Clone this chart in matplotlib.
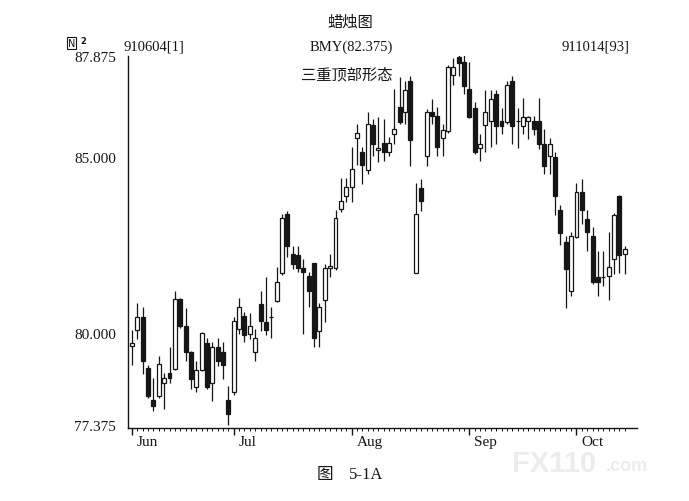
import numpy as np
import matplotlib
matplotlib.use("Agg")
import matplotlib.pyplot as plt
from matplotlib.transforms import ScaledTranslation

# ---- data (trading day index 1..93, 910604 .. 911014) ----
opens = [79.62, 80.09, 80.45, 79.00, 78.10, 78.21, 78.58, 78.86, 78.98, 80.97,
         80.20, 79.46, 78.47, 78.95, 79.72, 78.58, 79.60, 79.46, 78.10, 78.32,
         80.11, 80.48, 79.97, 79.46, 80.82, 80.31, 80.45, 80.91, 81.70, 83.38,
         82.24, 82.22, 81.85, 81.62, 81.99, 80.06, 80.94, 81.85, 81.85, 83.52,
         83.89, 84.15, 85.54, 85.14, 84.63, 85.91, 85.20, 85.40, 85.14, 85.65,
         86.42, 86.28, 87.16, 81.70, 84.12, 85.03, 86.28, 86.16, 85.54, 85.74,
         87.33, 87.84, 87.70, 86.93, 86.39, 85.26, 85.91, 86.02, 86.79, 86.02,
         85.99, 87.16, 86.02, 85.88, 86.02, 86.02, 86.02, 85.37, 85.03, 85.00,
         83.49, 82.59, 81.19, 82.73, 84.01, 83.24, 82.76, 81.59, 81.59, 81.62,
         82.10, 83.89, 82.25]
highs = [80.09, 80.85, 80.74, 79.09, 78.72, 79.35, 78.86, 79.60, 81.19, 81.00,
         80.71, 79.50, 79.20, 80.03, 79.85, 79.75, 79.86, 79.74, 78.49, 80.45,
         81.00, 80.60, 80.57, 80.11, 81.19, 81.59, 80.74, 81.88, 83.38, 83.47,
         82.47, 82.47, 82.10, 81.73, 82.00, 80.85, 81.96, 82.24, 83.49, 84.40,
         84.40, 85.28, 85.94, 85.28, 86.28, 86.08, 86.14, 86.08, 85.57, 86.93,
         87.27, 87.16, 87.30, 84.26, 84.38, 86.36, 86.65, 86.42, 85.94, 87.61,
         87.81, 87.90, 87.93, 87.70, 86.56, 85.65, 86.90, 86.90, 86.90, 86.39,
         87.16, 87.30, 86.39, 86.68, 86.16, 86.16, 86.68, 85.80, 85.54, 85.14,
         83.64, 82.76, 82.87, 84.26, 84.38, 83.49, 83.00, 82.33, 82.33, 82.87,
         83.40, 83.92, 82.47]
lows = [79.09, 79.83, 78.84, 78.15, 77.78, 78.15, 77.84, 78.58, 78.95, 80.15,
        79.20, 78.41, 78.32, 78.92, 78.40, 78.07, 79.06, 78.69, 77.375, 78.25,
        79.97, 79.74, 79.83, 79.20, 80.06, 79.94, 79.86, 80.88, 81.65, 82.16,
        81.82, 81.73, 79.97, 80.74, 79.60, 79.60, 80.31, 81.60, 81.80, 83.45,
        83.72, 83.72, 84.77, 84.23, 84.52, 85.03, 84.86, 84.89, 85.03, 85.37,
        85.94, 85.94, 84.74, 81.70, 83.47, 84.74, 85.94, 85.03, 85.03, 85.70,
        87.05, 87.30, 86.79, 86.10, 85.10, 84.89, 85.14, 85.28, 85.37, 85.65,
        85.94, 85.37, 85.26, 85.65, 85.51, 85.62, 85.23, 84.52, 84.52, 83.35,
        82.50, 80.71, 81.05, 82.70, 83.10, 82.33, 81.40, 81.05, 81.34, 80.94,
        81.68, 81.71, 81.68]
closes = [79.72, 80.45, 79.20, 78.21, 77.93, 79.12, 78.72, 78.72, 80.97, 80.20,
          79.46, 78.69, 78.95, 80.00, 78.47, 79.60, 79.20, 79.09, 77.70, 80.34,
          80.74, 79.94, 80.20, 79.86, 80.34, 80.09, 80.45, 81.45, 83.27, 82.47,
          81.96, 81.85, 81.73, 81.19, 79.86, 80.74, 81.85, 81.90, 83.27, 83.75,
          84.15, 84.66, 85.68, 84.77, 85.94, 85.37, 85.25, 85.14, 85.40, 85.80,
          85.99, 86.90, 85.48, 83.38, 83.75, 86.28, 86.16, 85.28, 85.77, 87.56,
          87.56, 87.67, 87.02, 86.14, 85.14, 85.37, 86.28, 86.65, 85.88, 85.88,
          87.05, 85.88, 86.02, 86.14, 86.14, 85.80, 85.37, 84.74, 85.37, 83.89,
          82.84, 81.82, 82.76, 84.01, 83.49, 82.87, 81.45, 81.45, 81.59, 81.88,
          83.35, 82.22, 82.375]

month_labels = ["Jun", "Jul", "Aug", "Sep", "Oct"]
month_start_index = [1, 20, 42, 64, 84]
y_ticks = [77.375, 80.0, 85.0, 87.875]
y_tick_labels = ["77.375", "80.000", "85.000", "87.875"]

o = np.array(opens); h = np.array(highs); l = np.array(lows); c = np.array(closes)
x = np.arange(1, len(o) + 1)

W, H = 689, 502
fig = plt.figure(figsize=(W / 100, H / 100), dpi=100)
fig.patch.set_facecolor("white")
serif = ["Liberation Serif", "Noto Sans CJK SC", "DejaVu Sans"]
cjk = ["Noto Sans CJK SC", "Liberation Serif"]

# watermark
fig.text(512 / W, 1 - 464 / H, "FX110", fontsize=21, fontweight="bold",
         color="#ececec", family="Liberation Sans", ha="left", va="center", zorder=0)
fig.text(606 / W, 1 - 467 / H, ".com", fontsize=13, fontweight="bold",
         color="#ececec", family="Liberation Sans", ha="left", va="center", zorder=0)

ax = fig.add_axes([128 / W, 1 - 429 / H, (637 - 128) / W, (429 - 57) / H])
ax.set_facecolor("none")
ax.set_xlim(0.25, 95.3)
ax.set_ylim(77.30, 87.875)

ink = "#161616"
up = c >= o
ax.vlines(x, l, h, color=ink, linewidth=0.9, zorder=2)
bottoms = np.minimum(o, c)
heights = np.abs(c - o)
ax.bar(x, heights, width=0.74, bottom=bottoms,
       color=np.where(up, "white", ink), edgecolor=ink, linewidth=0.9, zorder=3)

for s in ["top", "right"]:
    ax.spines[s].set_visible(False)
for s in ["left", "bottom"]:
    ax.spines[s].set_color(ink)
    ax.spines[s].set_linewidth(1.0)

ax.set_yticks(y_ticks)
ax.set_yticklabels(y_tick_labels, fontsize=11, family=serif, color=ink)
ax.tick_params(axis="y", length=0, pad=8.5)

ax.set_xticks(month_start_index)
ax.set_xticklabels(month_labels, fontsize=11, family=serif, color=ink)
ax.set_xticks(x, minor=True)
ax.tick_params(axis="x", which="major", direction="out", length=5, width=1.0,
               color=ink, pad=0)
ax.tick_params(axis="x", which="minor", direction="out", length=2, width=0.7,
               color=ink)
offset = ScaledTranslation(5 / 100, 0, fig.dpi_scale_trans)
for lab in ax.get_xticklabels():
    lab.set_horizontalalignment("left")
    lab.set_transform(lab.get_transform() + offset)

# header texts
fig.text(350 / W, 1 - 22 / H, "蜡烛图", fontsize=11, family=cjk, ha="center", va="center", color=ink)
fig.text(124 / W, 1 - 47 / H, "910604[1]", fontsize=10.5, family=serif, ha="left", va="center", color=ink)
fig.text(351 / W, 1 - 47 / H, "BMY(82.375)", fontsize=10.5, family=serif, ha="center", va="center", color=ink)
fig.text(629 / W, 1 - 47 / H, "911014[93]", fontsize=10.5, family=serif, ha="right", va="center", color=ink)
fig.text(347 / W, 1 - 75 / H, "三重顶部形态", fontsize=11, family=cjk, ha="center", va="center", color=ink)

# small N2 icon
fig.text(68 / W, 1 - 44 / H, "N", fontsize=7, family="DejaVu Sans", ha="left", va="center",
         color=ink, bbox=dict(boxstyle="square,pad=0.1", fc="white", ec=ink, lw=0.8))
fig.text(80 / W, 1 - 41 / H, "2", fontsize=6, family="DejaVu Sans", fontweight="bold",
         ha="left", va="center", color=ink)

# caption
fig.text(325 / W, 1 - 475 / H, "图", fontsize=12, family=cjk, ha="center", va="center", color=ink)
fig.text(366 / W, 1 - 475 / H, "5-1A", fontsize=12, family=serif, ha="center", va="center", color=ink)

fig.savefig("out.png", dpi=100, facecolor="white")
